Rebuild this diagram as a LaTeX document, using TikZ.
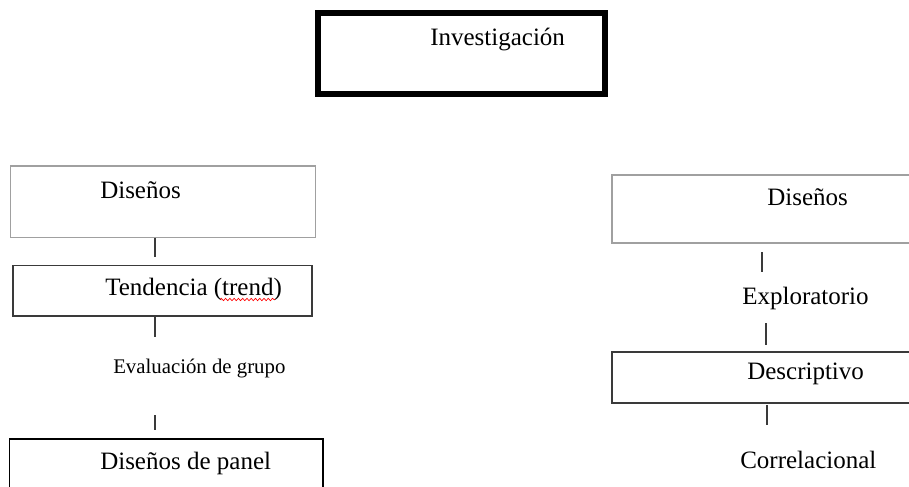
\documentclass[tikz,border=0pt]{standalone}
\usepackage{fontspec}
\setmainfont{Liberation Serif}
\usetikzlibrary{fit,decorations.pathmorphing}
\definecolor{lightframe}{HTML}{A0A0A0}
\definecolor{darkframe}{HTML}{3A3A3A}
\tikzset{
  txt/.style={anchor=base west, inner sep=0pt, font=\fontsize{18.75}{22}\selectfont},
  smalltxt/.style={anchor=base west, inner sep=0pt, font=\fontsize{15.6}{18}\selectfont},
  lightbox/.style={draw=lightframe, line width=0.9pt, inner sep=0pt},
  darkbox/.style={draw=darkframe, line width=0.9pt, inner sep=0pt},
  conn/.style={draw=darkframe, line width=0.8pt},
}
\begin{document}
\begin{tikzpicture}[x=0.75pt,y=-0.75pt]
\clip (0,0) rectangle (909,486);
\fill[white] (0,0) rectangle (909,486);
% top box
\node[draw=black, line width=4.5pt, inner sep=0pt, fit={(318,13) (604.5,94)}] (top) {};
\node[txt] (toptext) at (430,45) {Investigación};
% left column
\node[lightbox, fit={(10.5,166) (315.5,237.5)}] (ldis) {};
\node[txt] (ldistext) at (100,198) {Diseños};
\node[darkbox, fit={(13,265.5) (312,316)}] (ltend) {};
\node[txt] (ltendtext) at (105,295) {Tendencia (trend)};
\draw[red, line width=0.5pt, decorate, decoration={snake, amplitude=0.9, segment length=3.2}] (220,299.5) -- (275,299.5);
\node[smalltxt] (leval) at (113,373) {Evaluación de grupo};
\node[draw=black, line width=0.9pt, inner sep=0pt, fit={(9.5,439) (323,500)}] (lpanel) {};
\node[txt] (lpaneltext) at (100,469.5) {Diseños de panel};
% right column
\node[lightbox, fit={(612,175) (950,243)}] (rdis) {};
\node[txt] (rdistext) at (767,205) {Diseños};
\node[txt] (rexp) at (742,304.5) {Exploratorio};
\node[darkbox, fit={(612,352) (950,403)}] (rdesc) {};
\node[txt] (rdesctext) at (747,379.5) {Descriptivo};
\node[txt] (rcorr) at (740,468.5) {Correlacional};
% connectors
\coordinate (l1a) at (155,237.5); \coordinate (l1b) at (155,257);
\coordinate (l2a) at (155,316);   \coordinate (l2b) at (155,337);
\coordinate (l3a) at (155,415);   \coordinate (l3b) at (155,430);
\coordinate (r1a) at (762,252);   \coordinate (r1b) at (762,272);
\coordinate (r2a) at (766,323);   \coordinate (r2b) at (766,345);
\coordinate (r3a) at (767,405);   \coordinate (r3b) at (767,425);
\draw[conn] (l1a) -- (l1b);
\draw[conn] (l2a) -- (l2b);
\draw[conn] (l3a) -- (l3b);
\draw[conn] (r1a) -- (r1b);
\draw[conn] (r2a) -- (r2b);
\draw[conn] (r3a) -- (r3b);
\end{tikzpicture}
\end{document}
